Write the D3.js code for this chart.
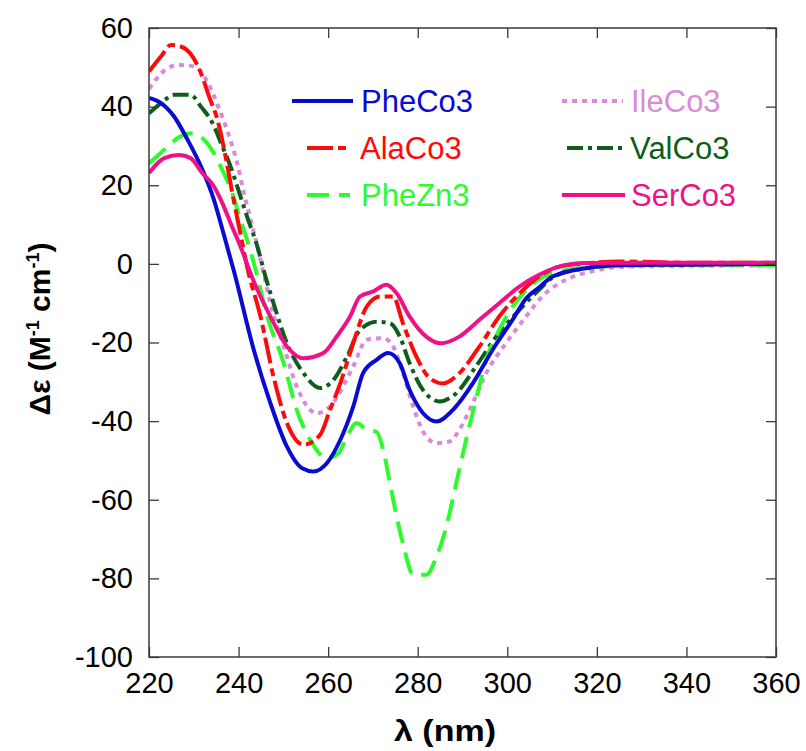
<!DOCTYPE html>
<html>
<head>
<meta charset="utf-8">
<script src="https://cdn.jsdelivr.net/npm/d3@7"></script>
<style>
  body { margin: 0; background: #fff; }
  text { font-family: 'Liberation Sans', Arial, sans-serif; }
</style>
</head>
<body>
<div id="chart"></div>
<script>
// axis ticks
const wavelengthTicks = [220, 240, 260, 280, 300, 320, 340, 360]
const deltaEpsTicks = [-100, -80, -60, -40, -20, 0, 20, 40, 60]

// CD spectra: [wavelength nm, delta epsilon]
const pheCo3 = [[220, 42.2], [222.7, 40.9], [225.6, 37.5], [228.6, 31.6], [231.6, 24.8], [234.5, 16.3], [236.7, 7.5], [239, -2], [243.4, -21.9], [247.1, -35.4], [250.8, -46.5], [254.2, -52], [256.7, -52.8], [259.7, -50.7], [262.7, -44.8], [265.6, -36.3], [267.8, -27.8], [270.8, -24.4], [273.4, -22.7], [276, -25.3], [278.2, -32.1], [281.2, -38], [284.2, -40.1], [287.8, -37.2], [292.3, -30.4], [296.7, -21.9], [301.2, -14.2], [304.2, -8.8], [307.1, -6], [310.1, -3.2], [317.5, -1.1], [326.4, -0.3], [340, -0.2], [360, 0]]
const alaCo3 = [[220, 48.9], [222.7, 52.8], [224.9, 55.7], [227.1, 55.3], [229.7, 52.8], [231.6, 48.5], [233.4, 42.6], [235.3, 36.6], [237.1, 27.3], [238.6, 18], [240.4, 7.8], [241.9, -0.7], [244.9, -13.4], [247.8, -28.7], [250.8, -40.5], [254.5, -46], [258.2, -43.5], [260.4, -37.2], [262.7, -30.4], [265.6, -20.2], [268.6, -10.9], [271.6, -8.3], [274.5, -8.3], [276.7, -15.1], [279.7, -23.6], [282.7, -29.1], [285.6, -30.4], [289.3, -27.8], [293.8, -21], [298.2, -13.4], [302.7, -7.5], [305.6, -4.5], [311.6, -0.7], [318, 0.2], [325, 0.6], [340, 0.3], [360, 0.3]]
const pheZn3 = [[220, 25.6], [223.4, 29], [226.4, 32], [229.7, 33.2], [231.9, 32], [234.9, 27.3], [236.7, 23.1], [238.6, 18], [240.4, 11.2], [241.9, 6.1], [243.8, -1.5], [246.4, -13.4], [250.1, -25.3], [253, -37.2], [256, -44.8], [259.7, -49.4], [262.3, -48.2], [264.2, -43.9], [266.4, -40.5], [268.6, -42.2], [270.8, -42.7], [272.3, -47.3], [273.8, -55.8], [275.3, -64.3], [276.7, -71.1], [279, -79.1], [281.9, -79.1], [284.2, -74.5], [286.4, -66.8], [288.6, -55.8], [290.8, -44.8], [293, -34.6], [295.3, -24.4], [298.2, -16.8], [301.2, -10.9], [304.2, -6.6], [307, -4], [311.6, -1.9], [322.7, -0.6], [340, -0.3], [360, -0.3]]
const ileCo3 = [[220, 44.5], [221.2, 46.4], [224.2, 49.8], [226.7, 50.6], [230.1, 50.2], [233, 46.4], [235.6, 39.6], [237.8, 32.8], [239.7, 25.6], [241.2, 18], [242.7, 11.2], [244.2, 4.4], [245.6, -2.4], [247.1, -10], [250.1, -21], [253, -31.2], [257.5, -38], [260.4, -36.3], [265.6, -26.1], [268.6, -19.3], [272.3, -18.9], [274.5, -21], [276.7, -27.8], [279, -36.3], [281.2, -42.7], [284.2, -45.6], [287.1, -45.2], [289.3, -42.2], [292.3, -35.4], [295.3, -27.8], [299.7, -20.2], [304.2, -13.4], [307.8, -8.3], [313, -4.1], [318.9, -1.9], [326.4, -0.7], [341, -0.5], [360, -0.4]]
const valCo3 = [[220, 38.3], [222.7, 40.9], [225.6, 43], [229.3, 43], [231.6, 40], [234.2, 35.8], [236.4, 29.8], [238.2, 24.8], [239.7, 19.7], [241.9, 12], [244.2, 4.4], [246, -3.2], [247.8, -10], [250.8, -20.2], [254.5, -27.8], [258.2, -31.6], [261.2, -29.5], [264.2, -23.6], [267.1, -16.8], [270.8, -14.7], [273.8, -15.1], [276, -18.5], [278.2, -25.3], [281.2, -32.1], [284.9, -35], [288.6, -32.9], [293, -26.1], [297.5, -18.5], [302.7, -11.7], [307.1, -6.6], [310.1, -3.5], [317.5, -1.1], [326.4, -0.3], [340, -0.1], [360, 0.3]]
const serCo3 = [[220, 23.1], [223.4, 26.9], [226.7, 27.7], [229.3, 26.9], [231.9, 23.1], [234.5, 19.7], [236.4, 15.4], [238.2, 10.4], [240.4, 4.5], [243.4, -4.5], [247.1, -13.4], [250.8, -21], [254.5, -24], [258.9, -22.7], [261.9, -18.5], [264.9, -13.4], [267.1, -8.3], [270.1, -7], [273, -5.3], [275.3, -7.5], [278.2, -13.4], [281.9, -18.5], [285.2, -20.2], [289.3, -18.5], [293.8, -14.2], [298.2, -10], [302.7, -5.8], [307.1, -2.8], [311.6, -0.7], [317.5, 0.2], [330, 0.3], [360, 0.3]]

const seriesNames = ['PheCo3', 'AlaCo3', 'PheZn3', 'IleCo3', 'ValCo3', 'SerCo3']
const seriesValues = [pheCo3, alaCo3, pheZn3, ileCo3, valCo3, serCo3]

const WIDTH = 806
const HEIGHT = 751
const MARGIN = { top: 28, right: 30, bottom: 94, left: 149 }
const PLOT_W = WIDTH - MARGIN.left - MARGIN.right
const PLOT_H = HEIGHT - MARGIN.top - MARGIN.bottom
const TICK_LEN = 10
const FRAME_COLOR = '#3a3a3a'

const STYLE = {
  PheCo3: { color: '#0a0ad0', dash: null },
  AlaCo3: { color: '#ff0a0a', dash: '26,5,8,5' },
  PheZn3: { color: '#2dfb2d', dash: '22,10' },
  IleCo3: { color: '#d98bd9', dash: '5,5' },
  ValCo3: { color: '#0d5e1c', dash: '16,5,4,5' },
  SerCo3: { color: '#ee1188', dash: null }
}
const DRAW_ORDER = ['IleCo3', 'ValCo3', 'PheZn3', 'AlaCo3', 'PheCo3', 'SerCo3']

// legend slots: [x1, x2, textX, y]
const LEGEND_POS = {
  PheCo3: [292, 353, 361, 101],
  AlaCo3: [307, 350, 360, 148],
  PheZn3: [307, 350, 361, 195],
  IleCo3: [562, 623, 631, 101],
  ValCo3: [567, 622, 630, 148],
  SerCo3: [562, 625, 631, 195]
}

const svg = d3.select('#chart')
  .append('svg')
  .attr('width', WIDTH)
  .attr('height', HEIGHT)

const g = svg.append('g')
  .attr('transform', 'translate(' + MARGIN.left + ',' + MARGIN.top + ')')

const x = d3.scaleLinear().domain([220, 360]).range([0, PLOT_W])
const y = d3.scaleLinear().domain([-100, 60]).range([PLOT_H, 0])

// spectra, clipped to the frame
svg.append('defs').append('clipPath').attr('id', 'plot-clip')
  .append('rect').attr('width', PLOT_W).attr('height', PLOT_H)

const line = d3.line()
  .x(d => x(d[0]))
  .y(d => y(d[1]))
  .curve(d3.curveMonotoneX)

const curves = g.append('g').attr('clip-path', 'url(#plot-clip)')
DRAW_ORDER.forEach(function (name) {
  const values = seriesValues[seriesNames.indexOf(name)]
  curves.append('path')
    .datum(values)
    .attr('fill', 'none')
    .attr('stroke', STYLE[name].color)
    .attr('stroke-width', 4)
    .attr('stroke-dasharray', STYLE[name].dash)
    .attr('stroke-linejoin', 'round')
    .attr('d', line)
})

// axes with inward ticks on all four sides
const plainNumber = d => String(d)

function styleAxis (sel) {
  sel.select('.domain').remove()
  sel.selectAll('.tick line').attr('stroke', FRAME_COLOR).attr('stroke-width', 1.3)
  sel.selectAll('.tick text')
    .attr('fill', '#000')
    .style('font-family', "'Liberation Sans', Arial, sans-serif")
    .style('font-size', '29px')
}

g.append('g')
  .attr('transform', 'translate(0,' + PLOT_H + ')')
  .call(d3.axisBottom(x).tickValues(wavelengthTicks).tickFormat(plainNumber).tickSize(-TICK_LEN).tickPadding(15))
  .call(styleAxis)

g.append('g')
  .call(d3.axisLeft(y).tickValues(deltaEpsTicks).tickFormat(plainNumber).tickSize(-TICK_LEN).tickPadding(16))
  .call(styleAxis)

g.append('g')
  .call(d3.axisTop(x).tickValues(wavelengthTicks).tickSize(-TICK_LEN).tickFormat(''))
  .call(styleAxis)

g.append('g')
  .attr('transform', 'translate(' + PLOT_W + ',0)')
  .call(d3.axisRight(y).tickValues(deltaEpsTicks).tickSize(-TICK_LEN).tickFormat(''))
  .call(styleAxis)

g.append('rect')
  .attr('width', PLOT_W)
  .attr('height', PLOT_H)
  .attr('fill', 'none')
  .attr('stroke', FRAME_COLOR)
  .attr('stroke-width', 1.5)

// axis titles
svg.append('text')
  .attr('x', 394)
  .attr('y', 741)
  .attr('textLength', 102)
  .attr('lengthAdjust', 'spacingAndGlyphs')
  .style('font-size', '30px')
  .style('font-weight', 'bold')
  .text('λ (nm)')

const yTitle = svg.append('text')
  .attr('transform', 'translate(50,329) rotate(-90)')
  .attr('text-anchor', 'middle')
  .style('font-size', '30px')
  .style('font-weight', 'bold')
yTitle.append('tspan').text('Δε (M')
yTitle.append('tspan').attr('dy', -11).style('font-size', '18px').text('-1')
yTitle.append('tspan').attr('dy', 11).text('  cm')
yTitle.append('tspan').attr('dy', -11).style('font-size', '18px').text('-1')
yTitle.append('tspan').attr('dy', 11).text(')')

// legend
const legend = svg.append('g')
seriesNames.forEach(function (name) {
  const p = LEGEND_POS[name]
  legend.append('line')
    .attr('x1', p[0]).attr('x2', p[1])
    .attr('y1', p[3]).attr('y2', p[3])
    .attr('stroke', STYLE[name].color)
    .attr('stroke-width', 4)
    .attr('stroke-dasharray', STYLE[name].dash)
  legend.append('text')
    .attr('x', p[2])
    .attr('y', p[3])
    .attr('dy', '0.36em')
    .attr('fill', STYLE[name].color)
    .style('font-size', '31px')
    .text(name)
})
</script>
</body>
</html>
